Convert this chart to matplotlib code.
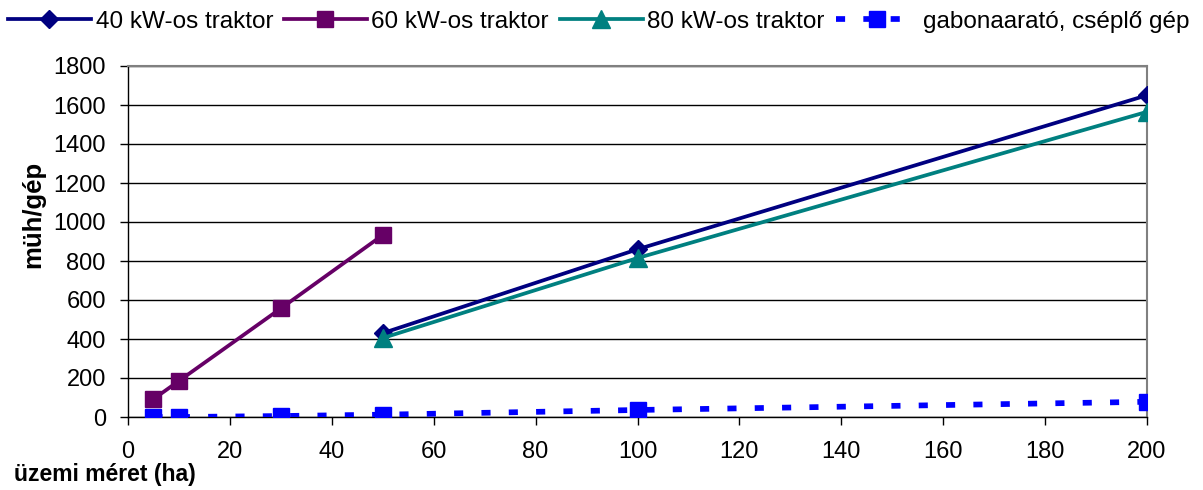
import matplotlib
matplotlib.use("Agg")
import matplotlib.pyplot as plt

plt.rcParams['font.family'] = ['Liberation Sans', 'DejaVu Sans']

x40 = [50, 100, 200]
y40 = [430, 860, 1650]
x60 = [5, 10, 30, 50]
y60 = [92, 185, 557, 933]
x80 = [50, 100, 200]
y80 = [405, 815, 1565]
xg = [5, 10, 30, 50, 100, 200]
yg = [0, 0, 5, 12, 36, 78]

labels = ['40 kW-os traktor', '60 kW-os traktor', '80 kW-os traktor', 'gabonaarató, cséplő gép']
xticks = list(range(0, 201, 20))
yticks = list(range(0, 1801, 200))

fig = plt.figure(figsize=(12.03, 4.90), dpi=100)
ax = fig.add_axes([128/1203, 1-417/490, (1147-128)/1203, (417-66)/490])

ax.plot(x40, y40, color='#000080', lw=2.7, marker='D', ms=9.5, label=labels[0], zorder=4)
ax.plot(x60, y60, color='#660066', lw=2.7, marker='s', ms=11, label=labels[1], zorder=4)
ax.plot(x80, y80, color='#008080', lw=2.7, marker='^', ms=13, label=labels[2], zorder=4)
ax.plot(xg, yg, color='#0000FF', lw=4.1, ls=(0, (1.6, 3.2)), dash_capstyle='butt',
        marker='s', ms=11, label=labels[3], zorder=4)

ax.set_xlim(0, 200)
ax.set_ylim(0, 1800)
ax.set_xticks(xticks)
ax.set_yticks(yticks)
ax.tick_params(axis='both', labelsize=17, direction='out', length=6, width=1, color='black')
ax.tick_params(axis='x', pad=11)
ax.tick_params(axis='y', pad=10)
ax.grid(axis='y', color='black', lw=1)
ax.set_axisbelow(True)
for s in ['top', 'right']:
    ax.spines[s].set_color('#808080')
    ax.spines[s].set_linewidth(1.5)
for s in ['left', 'bottom']:
    ax.spines[s].set_color('black')
    ax.spines[s].set_linewidth(1)

fig.text(14/1203, 1-474/490, 'üzemi méret (ha)', fontsize=16.5, fontweight='bold', va='center', ha='left')
fig.text(33/1203, 1-214/490, 'müh/gép', fontsize=18.5, fontweight='bold', va='center', ha='center', rotation=90)

leg = fig.legend(loc='center left', bbox_to_anchor=(8/1203, 1-22/490), ncol=4, frameon=False,
                 fontsize=17.5, handlelength=3.4, handletextpad=0.2, columnspacing=0.45,
                 borderaxespad=0, borderpad=0)

fig.savefig('out.png', dpi=100)
